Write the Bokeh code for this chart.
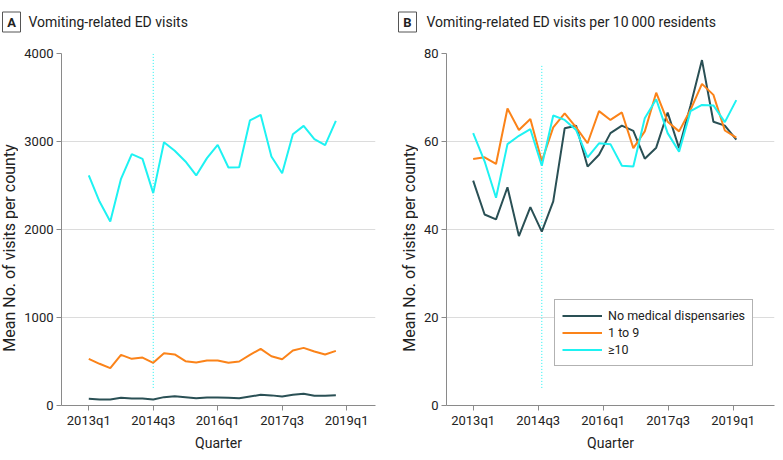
from math import pi
from bokeh.plotting import figure
from bokeh.layouts import row, column
from bokeh.models import Legend, LegendItem, FixedTicker, Range1d, LinearAxis
from bokeh.core.properties import value
from bokeh.embed import file_html
from bokeh.resources import INLINE

quarters = ["2013q1", "2013q2", "2013q3", "2013q4", "2014q1", "2014q2", "2014q3", "2014q4",
            "2015q1", "2015q2", "2015q3", "2015q4", "2016q1", "2016q2", "2016q3", "2016q4",
            "2017q1", "2017q2", "2017q3", "2017q4", "2018q1", "2018q2", "2018q3", "2018q4"]
tick_labels = ["2013q1", "2014q3", "2016q1", "2017q3", "2019q1"]
marker_quarter = "2014q3"
group_names = ["No medical dispensaries", "1 to 9", "\u226510"]
panel_letters = ["A", "B"]
panel_titles = ["Vomiting-related ED visits", "Vomiting-related ED visits per 10\u2009000 residents"]
y_title = "Mean No. of visits per county"
x_title = "Quarter"

visits_none = [76, 68, 68, 87, 80, 80, 68, 95, 106, 95, 83, 90, 91, 87, 83, 102, 121, 115, 102, 121, 133, 110, 110, 117]
visits_1to9 = [530, 474, 424, 576, 530, 545, 485, 594, 580, 504, 489, 511, 511, 485, 500, 576, 644, 560, 526, 625, 655, 614, 580, 621]
visits_10plus = [2614, 2318, 2090, 2576, 2856, 2803, 2413, 2992, 2894, 2773, 2614, 2811, 2962, 2705, 2708, 3239, 3303, 2830, 2640, 3083, 3178, 3026, 2958, 3234]

rate_none = [51.1, 43.4, 42.3, 49.6, 38.5, 45.1, 39.5, 46.4, 63.0, 63.6, 54.3, 57.0, 61.9, 63.6, 62.4, 56.1, 58.6, 66.6, 58.5, 68.2, 78.5, 64.5, 63.6, 60.4]
rate_1to9 = [56.0, 56.4, 54.9, 67.5, 62.6, 65.1, 55.5, 63.2, 66.4, 63.2, 59.6, 66.9, 64.9, 66.6, 58.5, 62.3, 71.1, 64.5, 62.3, 67.2, 73.1, 70.6, 62.5, 60.9]
rate_10plus = [61.9, 55.5, 47.2, 59.4, 61.3, 62.8, 54.5, 65.9, 64.9, 62.6, 56.4, 59.6, 59.4, 54.5, 54.3, 65.3, 69.6, 61.9, 57.7, 66.9, 68.3, 68.2, 64.4, 69.4]

COLORS = ["#2a5055", "#fb8319", "#1ef2f2"]
FONT = "Roboto"
TEXT = "#222222"
TOTAL_W = 782
HEAD_H = 40
MAIN_H = 419
TOP = 13
FRAME_H = 352
LAB_W = 18


def qpos(label):
    return (int(label[:4]) - 2013) * 4 + int(label[-1]) - 1


x = [qpos(q) for q in quarters]
tick_pos = [qpos(t) for t in tick_labels]
marker_x = qpos(marker_quarter)


def blank(width, height):
    p = figure(width=width, height=height, output_backend="svg", toolbar_location=None,
               x_range=Range1d(0, width), y_range=Range1d(0, height),
               x_axis_type=None, y_axis_type=None, min_border=0)
    p.outline_line_color = None
    p.xgrid.visible = False
    p.ygrid.visible = False
    p.background_fill_color = "white"
    p.border_fill_color = "white"
    return p


# header strip with the panel letters and titles (coordinates in pixels, y measured from top)
head = blank(TOTAL_W, HEAD_H)
box_left = [2, 398]
box_w, box_top, box_bot = 18, 11.5, 31.5
title_left = [28, 426]
mid = HEAD_H - 21.5
head.quad(left=box_left, right=[b + box_w for b in box_left],
          top=[HEAD_H - box_top] * 2, bottom=[HEAD_H - box_bot] * 2,
          fill_color=None, line_color="#555555", line_width=1)
head.text(x=[b + box_w / 2 for b in box_left], y=[mid] * 2, text=panel_letters,
          text_align="center", text_baseline="middle", text_font=value(FONT),
          text_font_size=value("13px"), text_font_style="bold", text_color=TEXT)
head.text(x=title_left, y=[mid] * 2, text=panel_titles, text_align="left",
          text_baseline="middle", text_font=value(FONT), text_font_size=value("14px"),
          text_color=TEXT)


def ylab(cx):
    p = blank(LAB_W, MAIN_H)
    p.text(x=[cx], y=[MAIN_H - (271.5 - HEAD_H)], text=[y_title], angle=pi / 2,
           text_align="center", text_baseline="middle", text_font=value(FONT),
           text_font_size=value("16px"), text_color=TEXT)
    return p


def make_panel(width, min_left, min_right, xr, tick_range, y_end, y_ticks, series, dash_y,
               legend_loc=None):
    p = figure(width=width, height=MAIN_H, output_backend="svg", toolbar_location=None,
               x_range=Range1d(*xr), y_range=Range1d(0, y_end), x_axis_type=None,
               min_border_left=min_left, min_border_right=min_right,
               min_border_top=TOP, min_border_bottom=MAIN_H - TOP - FRAME_H)
    p.extra_x_ranges = {"ticks": Range1d(*tick_range)}
    xax = LinearAxis(x_range_name="ticks")
    p.add_layout(xax, "below")
    p.outline_line_color = None
    p.background_fill_color = "white"
    p.border_fill_color = "white"
    p.ygrid.grid_line_color = "#dcdcdc"
    p.ygrid.grid_line_width = 1
    p.yaxis.ticker = FixedTicker(ticks=y_ticks)
    xax.ticker = FixedTicker(ticks=tick_pos)
    xax.major_label_overrides = {tp: tl for tp, tl in zip(tick_pos, tick_labels)}
    for ax in (xax, p.yaxis[0]):
        ax.axis_line_color = "#8a8a8a"
        ax.major_tick_line_color = "#8a8a8a"
        ax.major_tick_out = 5
        ax.major_tick_in = 0
        ax.minor_tick_line_color = None
        ax.major_label_text_font = FONT
        ax.major_label_text_font_size = "13px"
        ax.major_label_text_color = TEXT
    xax.major_label_standoff = 2
    p.yaxis.major_label_standoff = 3
    xax.axis_label = x_title
    xax.axis_label_text_font = FONT
    xax.axis_label_text_font_size = "14px"
    xax.axis_label_text_font_style = "normal"
    xax.axis_label_text_color = TEXT
    xax.axis_label_standoff = 4

    p.segment(x0=[marker_x], y0=[dash_y[0]], x1=[marker_x], y1=[dash_y[1]],
              line_color=COLORS[2], line_dash="1 2", line_width=1)

    renderers = []
    for vals, col in zip(series, COLORS):
        r = p.line(x, vals, line_color=col, line_width=2)
        renderers.append(r)

    if legend_loc is not None:
        items = [LegendItem(label=n, renderers=[r]) for n, r in zip(group_names, renderers)]
        lg = Legend(items=items, location=legend_loc, orientation="vertical",
                    border_line_color="#666666", border_line_width=1,
                    background_fill_color="white", background_fill_alpha=1.0,
                    padding=7, spacing=0, margin=0, label_height=17, glyph_height=17,
                    glyph_width=40, label_standoff=6, label_text_font=FONT,
                    label_text_font_size="12.5px", label_text_color=TEXT)
        p.add_layout(lg)
    return p


pa = make_panel(400 - LAB_W, 61 - LAB_W, 25, (-2.54, 26.69), (-2.54, 26.69),
                4000, [0, 1000, 2000, 3000, 4000],
                [visits_none, visits_1to9, visits_10plus], (200, 4000))
pb = make_panel(TOTAL_W - 400 - LAB_W, 46 - LAB_W, 8, (-2.33, 26.34), (-2.46, 27.82),
                80, [0, 20, 40, 60, 80],
                [rate_none, rate_1to9, rate_10plus], (4, 77.5), legend_loc=(108, 39))

layout = column(head, row(ylab(8.5), pa, ylab(9), pb))
open("out.html", "w").write(file_html(layout, INLINE))
